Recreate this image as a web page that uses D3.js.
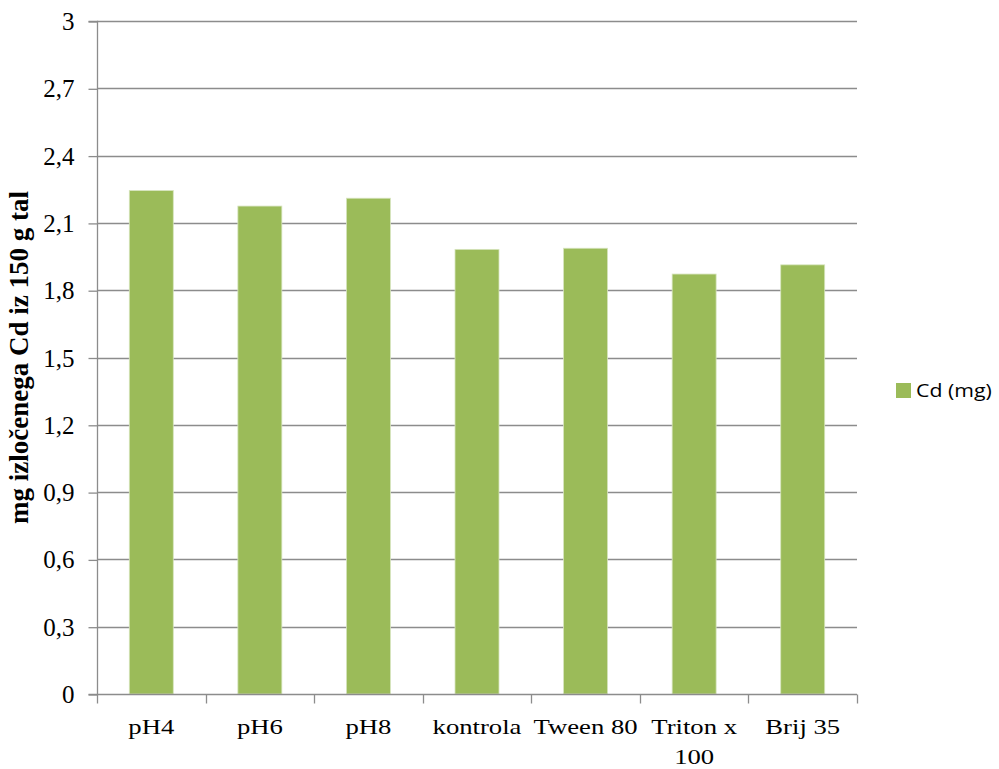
<!DOCTYPE html>
<html>
<head>
<meta charset="utf-8">
<script src="https://cdn.jsdelivr.net/npm/d3@7"></script>
<style>
  html, body { margin: 0; padding: 0; background: #fff; }
  svg { display: block; }
</style>
</head>
<body>
<svg id="chart" width="999" height="769"></svg>
<script>
// Extracted Cd per sample (mg from 150 g of soil)
const categories = ["pH4", "pH6", "pH8", "kontrola", "Tween 80", "Triton x 100", "Brij 35"];
const cdValues = [2.244, 2.175, 2.21, 1.982, 1.987, 1.872, 1.913];
const yTicks = [0, 0.3, 0.6, 0.9, 1.2, 1.5, 1.8, 2.1, 2.4, 2.7, 3];
const seriesName = "Cd (mg)";
const yTitle = "mg izločenega Cd iz 150 g tal";

const svg = d3.select("#chart");
const m = { left: 97, right: 857, top: 21, bottom: 694 };

const x = d3.scaleBand().domain(categories).range([m.left, m.right]).paddingInner(0.595).paddingOuter(0.2975);
const y = d3.scaleLinear().domain([0, 3]).range([m.bottom, m.top]);

const serif = "'Liberation Serif', 'Times New Roman', serif";
const gridColor = "#8c8c8c";

// horizontal gridlines
svg.append("g")
  .selectAll("line")
  .data(yTicks.filter(d => d > 0))
  .join("line")
  .attr("x1", m.left).attr("x2", m.right)
  .attr("y1", d => Math.round(y(d)) + 0.5).attr("y2", d => Math.round(y(d)) + 0.5)
  .attr("stroke", gridColor).attr("stroke-width", 1.3);

// bars
svg.append("g")
  .selectAll("rect")
  .data(categories)
  .join("rect")
  .attr("x", d => x(d))
  .attr("width", x.bandwidth())
  .attr("y", (d, i) => y(cdValues[i]))
  .attr("height", (d, i) => y(0) - y(cdValues[i]))
  .attr("fill", "#9bbb59")
  .attr("stroke", "#d6e4bd").attr("stroke-width", 0.8);

// y axis
const yAxis = d3.axisLeft(y)
  .tickValues(yTicks)
  .tickSize(9)
  .tickPadding(14)
  .tickFormat(d => d3.format(".1~f")(d).replace(".", ","));
const gy = svg.append("g").attr("transform", `translate(${m.left + 0.5},0.5)`).call(yAxis);
gy.select(".domain").attr("stroke", gridColor).attr("stroke-width", 1.3).attr("d", `M-9,${m.top}H0V${m.bottom}H-9`);
gy.selectAll(".tick line").attr("stroke", gridColor).attr("stroke-width", 1.3);
gy.selectAll(".tick text")
  .attr("font-family", serif).attr("font-size", 25).attr("fill", "#000");

// x axis
const xAxis = d3.axisBottom(x).tickSize(0).tickPadding(0);
const gx = svg.append("g").attr("transform", `translate(0,${m.bottom + 0.5})`).call(xAxis);
gx.select(".domain").attr("stroke", gridColor).attr("stroke-width", 1.3).attr("d", `M${m.left},0H${m.right}`);
gx.selectAll(".tick text").remove();
// category boundary ticks
const bounds = d3.range(categories.length + 1).map(i => m.left + i * (m.right - m.left) / categories.length);
gx.append("g").selectAll("line").data(bounds).join("line")
  .attr("x1", d => Math.round(d) + 0.5).attr("x2", d => Math.round(d) + 0.5)
  .attr("y1", 0).attr("y2", 9)
  .attr("stroke", gridColor).attr("stroke-width", 1.3);

// category labels, set in a widened serif; the long one wraps to two lines
const labels = svg.append("g");
categories.forEach(c => {
  const cx = x(c) + x.bandwidth() / 2;
  const lines = c === "Triton x 100" ? ["Triton x", "100"] : [c];
  lines.forEach((s, k) => {
    labels.append("text")
      .attr("transform", `translate(${cx},${734 + k * 30}) scale(1.27,1)`)
      .attr("text-anchor", "middle")
      .attr("font-family", serif).attr("font-size", 21).attr("fill", "#000")
      .text(s);
  });
});

// y axis title
svg.append("text")
  .attr("transform", `translate(28,${(m.top + m.bottom) / 2}) rotate(-90)`)
  .attr("text-anchor", "middle")
  .attr("font-family", serif).attr("font-size", 27).attr("font-weight", "bold")
  .attr("fill", "#000")
  .text(yTitle);

// legend
const lg = svg.append("g").attr("transform", "translate(896,383)");
lg.append("rect").attr("width", 15).attr("height", 15).attr("fill", "#9bbb59");
lg.append("text")
  .attr("transform", "translate(20,14) scale(1.12,1)")
  .attr("font-family", "'Open Sans', 'Liberation Sans', sans-serif").attr("font-size", 19)
  .attr("fill", "#000").text(seriesName);
</script>
</body>
</html>
